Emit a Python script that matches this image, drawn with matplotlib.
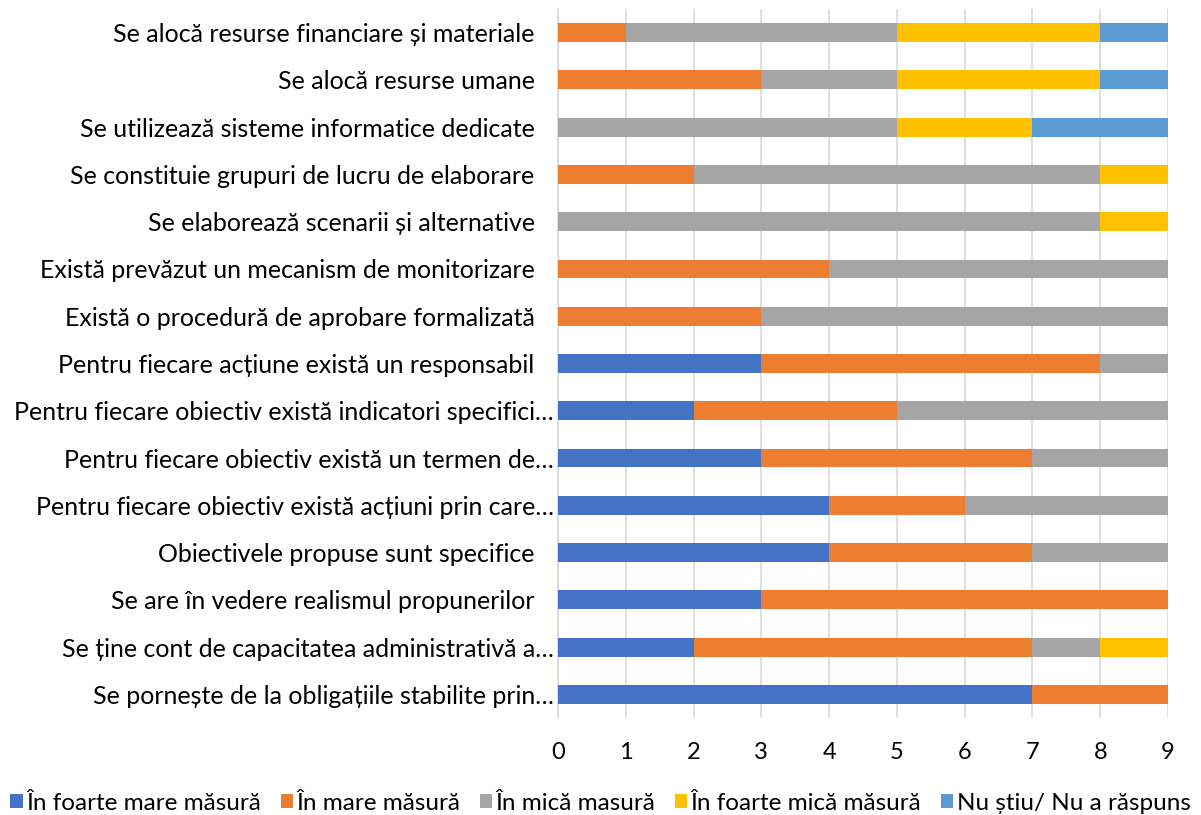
import matplotlib
matplotlib.use("Agg")
import matplotlib.pyplot as plt
import numpy as np

plt.rcParams['font.family'] = ['Lato', 'DejaVu Sans']

categories = [
    "Se alocă resurse financiare și materiale   ",
    "Se alocă resurse umane   ",
    "Se utilizează sisteme informatice dedicate   ",
    "Se constituie grupuri de lucru de elaborare   ",
    "Se elaborează scenarii și alternative   ",
    "Există prevăzut un mecanism de monitorizare   ",
    "Există o procedură de aprobare formalizată   ",
    "Pentru fiecare acțiune există un responsabil   ",
    "Pentru fiecare obiectiv există indicatori specifici…",
    "Pentru fiecare obiectiv există un termen de…",
    "Pentru fiecare obiectiv există acțiuni prin care…",
    "Obiectivele propuse sunt specifice   ",
    "Se are în vedere realismul propunerilor   ",
    "Se ține cont de capacitatea administrativă a…",
    "Se pornește de la obligațiile stabilite prin…",
]

foarte_mare = [0, 0, 0, 0, 0, 0, 0, 3, 2, 3, 4, 4, 3, 2, 7]
mare = [1, 3, 0, 2, 0, 4, 3, 5, 3, 4, 2, 3, 6, 5, 2]
mica = [4, 2, 5, 6, 8, 5, 6, 1, 4, 2, 3, 2, 0, 1, 0]
foarte_mica = [3, 3, 2, 1, 1, 0, 0, 0, 0, 0, 0, 0, 0, 1, 0]
nu_stiu = [1, 1, 2, 0, 0, 0, 0, 0, 0, 0, 0, 0, 0, 0, 0]

series_names = ["În foarte mare măsură", "În mare măsură", "În mică masură",
                "În foarte mică măsură", "Nu știu/ Nu a răspuns"]
colors = ["#4472C4", "#ED7D31", "#A5A5A5", "#FFC000", "#5B9BD5"]

fig = plt.figure(figsize=(12.01, 8.15), dpi=100)
ax = fig.add_axes([558 / 1201, 1 - 718 / 815, 610 / 1201, 709 / 815])

y = np.arange(len(categories))[::-1]
left = np.zeros(len(categories))
handles = []
for vals, name, col in zip([foarte_mare, mare, mica, foarte_mica, nu_stiu], series_names, colors):
    vals = np.array(vals, dtype=float)
    h = ax.barh(y, vals, left=left, height=0.4, color=col, label=name, zorder=3)
    handles.append(h)
    left += vals

ax.set_xlim(0, 9)
ax.set_ylim(-0.5, len(categories) - 0.5)
ax.set_xticks(range(10))
ax.set_yticks(y)
ax.set_yticklabels(categories, fontsize=18, color="#000000")
ax.tick_params(axis='x', labelsize=17, length=0, pad=17, colors="#000000")
ax.tick_params(axis='y', length=0, pad=3)
ax.grid(axis='x', color="#D9D9D9", linewidth=1.2, zorder=0)
for s in ['top', 'right', 'bottom']:
    ax.spines[s].set_visible(False)
ax.spines['left'].set_color("#D9D9D9")
ax.spines['left'].set_linewidth(1.2)

fig.legend(handles=handles, labels=series_names, loc='center', bbox_to_anchor=(0.5, 1 - 803 / 815),
           ncol=5, frameon=False, fontsize=17.5, handlelength=0.5, handleheight=0.5,
           handletextpad=0.15, columnspacing=0.8)

fig.savefig("out.png", dpi=100)
